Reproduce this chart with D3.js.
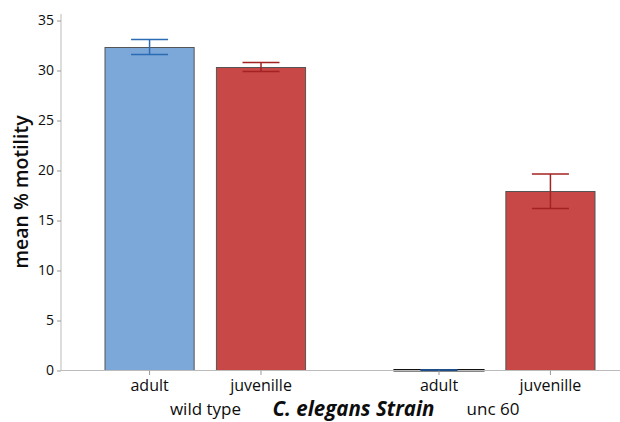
<!DOCTYPE html>
<html>
<head>
<meta charset="utf-8">
<script src="https://cdn.jsdelivr.net/npm/d3@7"></script>
<style>
  body { margin: 0; background: #fff; }
  svg text { font-family: "Open Sans", "Noto Sans", sans-serif; fill: #0d0d0d; }
</style>
</head>
<body>
<svg id="chart"></svg>
<script>
// data
var strains = ["wild type", "unc 60"];
var stages = ["adult", "juvenille"];
var means = [[32.3, 30.3], [0.05, 17.9]];
var errHi = [[33.1, 30.8], [0.08, 19.65]];
var errLo = [[31.6, 29.9], [0.02, 16.2]];
var yTicks = [0, 5, 10, 15, 20, 25, 30, 35];

var W = 620, H = 422;
var margin = {left: 61, top: 14};

var svg = d3.select('#chart').attr('width', W).attr('height', H);

var y = d3.scaleLinear().domain([0, 35]).range([370.5, 20.5]);

// outer band = strain, inner band = stage
var x0 = d3.scaleBand().domain(strains).range([105, 595]).paddingInner(0.307).paddingOuter(0);
var x1 = d3.scaleBand().domain(stages).range([0, x0.bandwidth()]).paddingInner(0.2);

var fills = {adult: "#7ba7d9", juvenille: "#c84747"};
var errCol = {adult: "#2b6cb5", juvenille: "#a52222"};

// y axis
svg.append('g')
  .attr('transform', 'translate(' + margin.left + ',0)')
  .call(d3.axisLeft(y).tickValues(yTicks).tickSize(4).tickPadding(3))
  .call(function(g){
    g.select('.domain').attr('d', 'M0,' + margin.top + 'V370.5').attr('stroke', '#bbb');
    g.selectAll('.tick line').attr('stroke', '#999');
    g.selectAll('.tick text').style('font-size', '14px');
  });

var rows = [];
strains.forEach(function(s, i){
  stages.forEach(function(st, j){
    rows.push({strain: s, stage: st, v: means[i][j], hi: errHi[i][j], lo: errLo[i][j]});
  });
});

function cx(d){ return x0(d.strain) + x1(d.stage) + x1.bandwidth()/2; }

svg.append('g').selectAll('rect').data(rows).enter().append('rect')
  .attr('x', function(d){ return x0(d.strain) + x1(d.stage); })
  .attr('width', x1.bandwidth())
  .attr('y', function(d){ return y(d.v); })
  .attr('height', function(d){ return y(0) - y(d.v); })
  .attr('fill', function(d){ return fills[d.stage]; })
  .attr('stroke', function(d){ return d.v < 1 ? '#111' : '#555'; })
  .attr('stroke-width', function(d){ return d.v < 1 ? 2 : 1; });

// x axis line
svg.append('line')
  .attr('x1', margin.left).attr('x2', W)
  .attr('y1', 370.5).attr('y2', 370.5)
  .attr('stroke', '#bbb');

// error bars
var capW = 37;
var eb = svg.append('g').selectAll('g').data(rows).enter().append('g')
  .attr('stroke', function(d){ return d.v < 1 ? '#1f4f8a' : errCol[d.stage]; })
  .attr('stroke-width', 1.5);
eb.append('line')
  .attr('x1', cx).attr('x2', cx)
  .attr('y1', function(d){ return y(d.hi); })
  .attr('y2', function(d){ return y(d.lo); });
['hi', 'lo'].forEach(function(k){
  eb.append('line')
    .attr('x1', function(d){ return cx(d) - capW/2; })
    .attr('x2', function(d){ return cx(d) + capW/2; })
    .attr('y1', function(d){ return y(d[k]); })
    .attr('y2', function(d){ return y(d[k]); });
});

// category ticks and labels
var xt = svg.append('g');
rows.forEach(function(d){
  xt.append('line').attr('x1', cx(d)).attr('x2', cx(d)).attr('y1', 370.5).attr('y2', 375).attr('stroke', '#999');
  xt.append('text').attr('x', cx(d)).attr('y', 391).attr('text-anchor', 'middle')
    .style('font-size', '16px').text(d.stage);
});

strains.forEach(function(s, i){
  svg.append('text')
    .attr('x', i === 0 ? 205.5 : 493)
    .attr('y', 415).attr('text-anchor', 'middle')
    .style('font-size', '17px').text(s);
});

svg.append('text')
  .attr('x', 353.5).attr('y', 416).attr('text-anchor', 'middle')
  .style('font-size', '20.5px').style('font-weight', 'bold').style('font-style', 'italic')
  .text('C. elegans Strain');

svg.append('text')
  .attr('transform', 'translate(28,192) rotate(-90)')
  .attr('text-anchor', 'middle')
  .style('font-size', '19.5px').style('font-weight', '600')
  .text('mean % motility');
</script>
</body>
</html>
